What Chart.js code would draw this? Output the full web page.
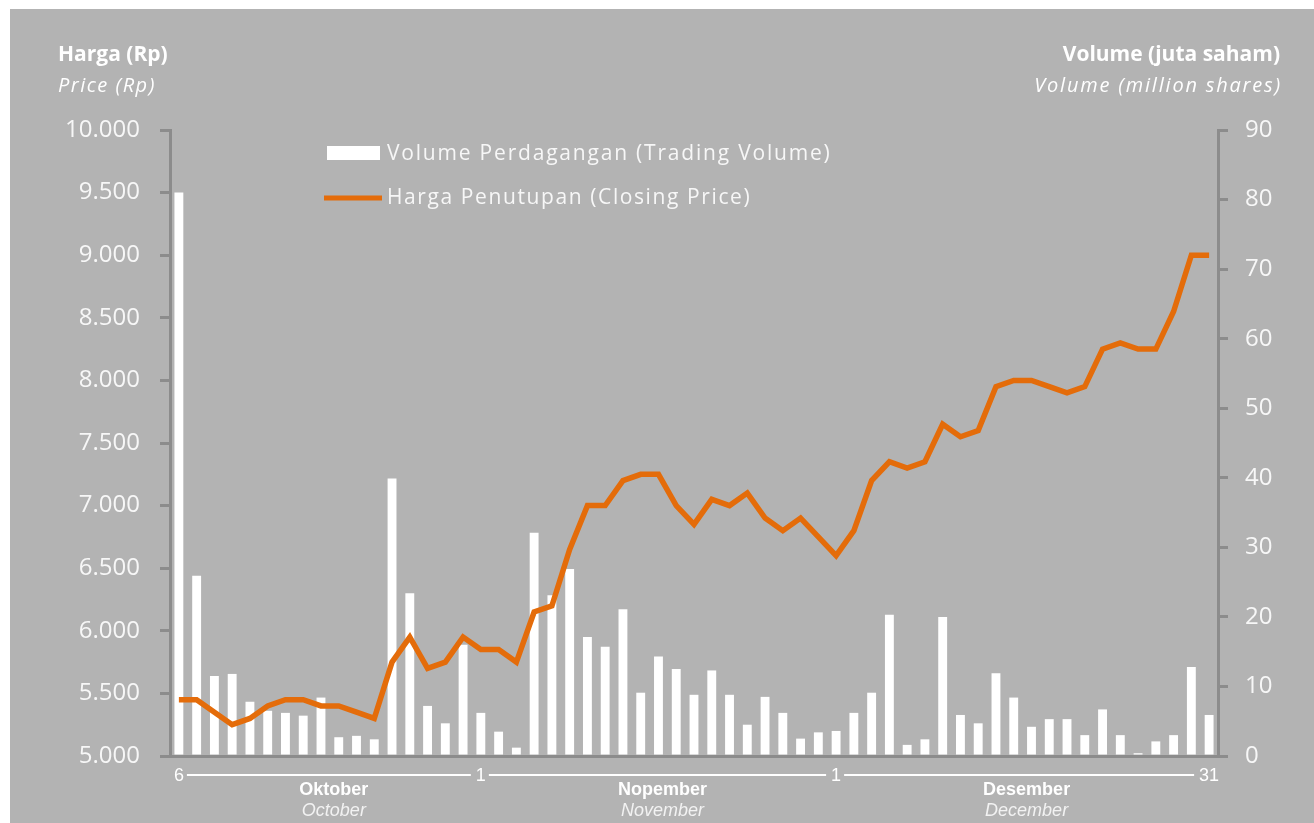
<!DOCTYPE html>
<html>
<head>
<meta charset="utf-8">
<script src="https://cdn.jsdelivr.net/npm/chart.js@4.4.0/dist/chart.umd.min.js"></script>
<style>
  body { margin: 0; background: #ffffff; }
  #wrap { width: 1314px; height: 823px; }
</style>
</head>
<body>
<div id="wrap"><canvas id="priceChart" width="1314" height="823"></canvas></div>
<script>
// daily trading volume (million shares), 6 Oct - 31 Dec
const volume = [
  81.0, 25.9, 11.5, 11.8, 7.8, 6.5, 6.2, 5.8, 8.4, 2.7,
  2.9, 2.4, 39.9, 23.4, 7.2, 4.7, 16.0, 6.2, 3.5, 1.2,
  32.1, 23.1, 26.9, 17.1, 15.7, 21.1, 9.1, 14.3, 12.5, 8.8,
  12.3, 8.8, 4.5, 8.5, 6.2, 2.5, 3.4, 3.6, 6.2, 9.1,
  20.3, 1.6, 2.4, 20.0, 5.9, 4.7, 11.9, 8.4, 4.2, 5.3,
  5.3, 3.0, 6.7, 3.0, 0.4, 2.1, 3.0, 12.8, 5.9
];

// closing price (Rp)
const closingPrice = [
  5450, 5450, 5350, 5250, 5300, 5400, 5450, 5450, 5400, 5400,
  5350, 5300, 5750, 5950, 5700, 5750, 5950, 5850, 5850, 5750,
  6150, 6200, 6650, 7000, 7000, 7200, 7250, 7250, 7000, 6850,
  7050, 7000, 7100, 6900, 6800, 6900, 6750, 6600, 6800, 7200,
  7350, 7300, 7350, 7650, 7550, 7600, 7950, 8000, 8000, 7950,
  7900, 7950, 8250, 8300, 8250, 8250, 8550, 9000, 9000
];

// which trading days get a day label on the x axis
const dayTickIndex = [0, 17, 37, 58];
const dayTickText = ['6', '1', '1', '31'];
const monthNames = ['Oktober', 'Nopember', 'Desember'];
const monthNamesEn = ['October', 'November', 'December'];

const categories = volume.map((v, i) => {
  const k = dayTickIndex.indexOf(i);
  return k >= 0 ? dayTickText[k] : '';
});

const bg = '#b3b3b3';
const axisGray = '#8c8c8c';
const orange = '#e46c0a';
const txt = '#f7f7f7';

Chart.defaults.font.family = "'Open Sans', sans-serif";

const decorPlugin = {
  id: 'decor',
  beforeDraw(chart) {
    const ctx = chart.ctx;
    ctx.save();
    ctx.fillStyle = '#ffffff';
    ctx.fillRect(0, 0, chart.width, chart.height);
    ctx.fillStyle = bg;
    ctx.fillRect(10, 9, chart.width - 10, chart.height - 9);
    ctx.restore();
  },
  afterDraw(chart) {
    const ctx = chart.ctx;
    const x = chart.scales.x;
    ctx.save();
    ctx.fillStyle = '#ffffff';
    ctx.textBaseline = 'middle';

    // axis titles
    ctx.textAlign = 'left';
    ctx.font = "bold 21px 'Open Sans'";
    ctx.fillText('Harga (Rp)', 58, 55);
    ctx.font = "italic 20px 'Open Sans'";
    ctx.letterSpacing = '1.5px';
    ctx.fillText('Price (Rp)', 58, 86);
    ctx.letterSpacing = '0px';
    ctx.textAlign = 'right';
    ctx.font = "bold 21px 'Open Sans'";
    ctx.fillText('Volume (juta saham)', 1280, 55);
    ctx.font = "italic 20px 'Open Sans'";
    ctx.letterSpacing = '1.8px';
    ctx.fillText('Volume (million shares)', 1282, 86);

    // legend
    ctx.textAlign = 'left';
    ctx.font = "21px 'Open Sans'";
    ctx.letterSpacing = '1.8px';
    ctx.fillStyle = '#ffffff';
    ctx.fillRect(327, 146, 53, 14);
    ctx.fillStyle = txt;
    ctx.fillText(chart.data.datasets[0].label, 387, 154);
    ctx.strokeStyle = orange;
    ctx.lineWidth = 5;
    ctx.beginPath();
    ctx.moveTo(324, 198);
    ctx.lineTo(382, 198);
    ctx.stroke();
    ctx.letterSpacing = '1.6px';
    ctx.fillText(chart.data.datasets[1].label, 387, 198);
    ctx.letterSpacing = '0px';

    // connector lines between day labels, month names underneath
    const dayFont = "18px 'Liberation Sans'";
    ctx.font = dayFont;
    const ly = x.top + 19;
    ctx.strokeStyle = '#ffffff';
    ctx.lineWidth = 2;
    for (let i = 0; i < dayTickIndex.length - 1; i++) {
      const xa = x.getPixelForValue(dayTickIndex[i]) + ctx.measureText(dayTickText[i]).width / 2 + 3;
      const xb = x.getPixelForValue(dayTickIndex[i + 1]) - ctx.measureText(dayTickText[i + 1]).width / 2 - 5;
      ctx.beginPath();
      ctx.moveTo(xa, ly);
      ctx.lineTo(xb, ly);
      ctx.stroke();
      const mid = (x.getPixelForValue(dayTickIndex[i]) + x.getPixelForValue(dayTickIndex[i + 1])) / 2 + 4;
      ctx.textAlign = 'center';
      ctx.fillStyle = '#ffffff';
      ctx.font = "bold 18px 'Liberation Sans'";
      ctx.fillText(monthNames[i], mid, x.top + 34);
      ctx.fillStyle = '#f2f2f2';
      ctx.font = "italic 18px 'Liberation Sans'";
      ctx.fillText(monthNamesEn[i], mid, x.top + 55);
      ctx.font = dayFont;
    }
    ctx.restore();
  }
};

const ctx = document.getElementById('priceChart').getContext('2d');
new Chart(ctx, {
  data: {
    labels: categories,
    datasets: [
      {
        type: 'bar',
        label: 'Volume Perdagangan (Trading Volume)',
        data: volume,
        yAxisID: 'y1',
        backgroundColor: '#ffffff',
        barPercentage: 0.5,
        categoryPercentage: 1.0,
        order: 2
      },
      {
        type: 'line',
        label: 'Harga Penutupan (Closing Price)',
        data: closingPrice,
        yAxisID: 'y',
        borderColor: orange,
        borderWidth: 5.5,
        borderJoinStyle: 'miter',
        pointRadius: 0,
        tension: 0,
        order: 1
      }
    ]
  },
  options: {
    responsive: false,
    animation: false,
    layout: { padding: { top: 130, left: 0, right: 0, bottom: 0 } },
    plugins: {
      legend: { display: false },
      tooltip: { enabled: false }
    },
    scales: {
      x: {
        grid: { display: false, drawTicks: false },
        border: { color: axisGray, width: 3 },
        ticks: {
          autoSkip: false,
          maxRotation: 0,
          padding: 9,
          color: '#ffffff',
          font: { family: "'Liberation Sans'", size: 18 }
        },
        afterFit(scale) { scale.height = 67; }
      },
      y: {
        position: 'left',
        min: 5000,
        max: 10000,
        grid: { drawOnChartArea: false, color: axisGray, lineWidth: 3, tickLength: 10 },
        border: { color: axisGray, width: 3 },
        ticks: {
          stepSize: 500,
          padding: 20,
          color: txt,
          font: { size: 24 },
          callback: v => v.toLocaleString('de-DE')
        },
        afterFit(scale) { scale.width = 170; }
      },
      y1: {
        position: 'right',
        min: 0,
        max: 90,
        grid: { drawOnChartArea: false, color: axisGray, lineWidth: 3, tickLength: 10 },
        border: { color: axisGray, width: 3 },
        ticks: {
          stepSize: 10,
          padding: 17,
          color: txt,
          font: { size: 24 }
        },
        afterFit(scale) { scale.width = 96; }
      }
    }
  },
  plugins: [decorPlugin]
});
</script>
</body>
</html>
